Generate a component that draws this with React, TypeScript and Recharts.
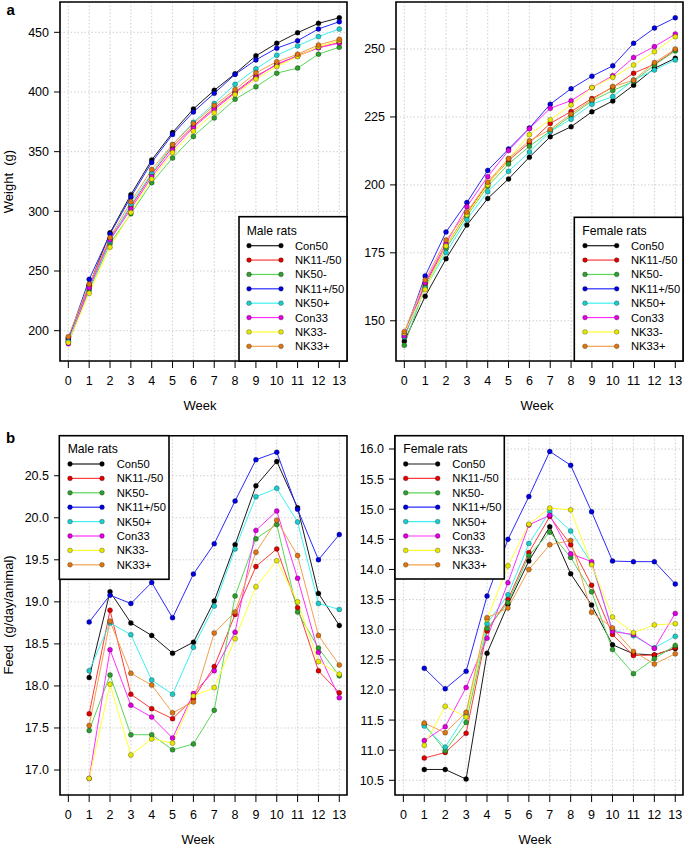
import React from 'react';
import { LineChart, Line, XAxis, YAxis, CartesianGrid, ReferenceArea } from 'recharts';

const FONT = '"Liberation Sans", Arial, Helvetica, sans-serif';

const seriesNames = ['Con50', 'NK11-/50', 'NK50-', 'NK11+/50', 'NK50+', 'Con33', 'NK33-', 'NK33+'];
const lineColors = ['#1a1a1a', '#ff3c3c', '#5ad65a', '#2a2aff', '#3ef0f0', '#ff30ff', '#ffff30', '#f2a04e'];
const dotColors = ['#000000', '#e00000', '#2e9e2e', '#0000e0', '#1ccccc', '#e000e0', '#e6e600', '#dd7612'];

const weightWeeks = [0, 1, 2, 3, 4, 5, 6, 7, 8, 9, 10, 11, 12, 13];
const feedWeeks = [1, 2, 3, 4, 5, 6, 7, 8, 9, 10, 11, 12, 13];
const weekTicks = [0, 1, 2, 3, 4, 5, 6, 7, 8, 9, 10, 11, 12, 13];

// series order follows seriesNames
const maleWeight = [
  [194, 238, 282, 314, 343, 366, 385.8, 401.4, 415.3, 430.3, 440.8, 449.7, 457.5, 462.2],
  [193, 238, 277, 304, 331, 354, 371.4, 386.7, 400, 413.3, 422.8, 430.6, 437.2, 441.4],
  [191, 234, 273, 298, 324, 344.7, 362.8, 378.3, 393.9, 404.4, 415.8, 420, 431.7, 437.5],
  [193, 243, 281, 312, 341, 364.4, 383.3, 398.9, 414.7, 426.9, 436.7, 443, 452.8, 458.9],
  [191, 235.8, 275, 306, 332, 355.8, 374.7, 390.3, 406.4, 419.4, 430.8, 438.6, 446.4, 452.8],
  [189, 236, 276, 302, 329, 351.4, 370.3, 385.3, 399.2, 412.2, 423.6, 430, 437, 441],
  [190, 231.4, 270, 299, 327, 349.2, 367.2, 382.5, 397.8, 410.8, 421.4, 429.7, 438, 443],
  [195, 239, 278, 308, 335, 356.1, 373.6, 388.6, 402, 416.1, 425.3, 431.7, 439.4, 444.2],
];

const femaleWeight = [
  [142.5, 159, 172.8, 185.2, 195, 202.2, 210.2, 217.7, 221.4, 226.9, 230.9, 236.7, 242.9, 246.6],
  [144, 163.5, 177.5, 189.5, 200.5, 209, 215.5, 222.6, 227, 231.8, 235.9, 241.1, 244.4, 249.6],
  [141, 162.5, 176.6, 188.5, 199.5, 207.7, 214.2, 219.8, 225.4, 230.9, 234.7, 238.1, 244.1, 249.3],
  [145, 166.5, 182.7, 193.5, 205.3, 213.2, 220.9, 229.7, 235.4, 240, 243.8, 252.1, 257.7, 261.5],
  [144, 162, 175.1, 187.3, 197.5, 205, 212.1, 219.6, 224.2, 229.7, 232.5, 238.6, 242.3, 246],
  [144.5, 164, 178.5, 192, 203, 212.7, 220.7, 228.2, 231, 235.8, 240.2, 246.9, 250.9, 255.5],
  [145.5, 161.5, 177.5, 189, 200, 209.6, 218.5, 224, 229.4, 235.8, 239.6, 244.1, 249, 254.5],
  [146, 165, 179.7, 190, 201, 209.7, 216.2, 220.4, 226.1, 231.3, 236.2, 238.5, 245, 250],
];

const maleFeed = [
  [18.1, 19.12, 18.75, 18.6, 18.39, 18.52, 19.01, 19.68, 20.38, 20.67, 20.12, 19.1, 18.72],
  [17.67, 18.9, 17.9, 17.73, 17.61, 17.85, 18.23, 18.85, 19.42, 19.63, 18.93, 18.18, 17.92],
  [17.47, 18.13, 17.42, 17.42, 17.24, 17.31, 17.71, 19.07, 19.75, 19.92, 18.88, 18.45, 18.12],
  [18.76, 19.08, 18.98, 19.23, 18.81, 19.33, 19.69, 20.2, 20.69, 20.78, 20.1, 19.5, 19.8],
  [18.18, 18.75, 18.61, 18.07, 17.9, 18.46, 18.95, 19.63, 20.25, 20.35, 19.95, 18.98, 18.91],
  [16.9, 18.43, 17.77, 17.63, 17.38, 17.91, 18.18, 18.64, 19.85, 20.08, 19.28, 18.4, 17.86],
  [16.9, 18.02, 17.18, 17.37, 17.32, 17.88, 17.98, 18.56, 19.18, 19.49, 19.0, 18.29, 18.14],
  [17.53, 18.77, 18.15, 18.01, 17.68, 17.81, 18.63, 18.88, 19.59, 19.97, 19.55, 18.6, 18.25],
];

const femaleFeed = [
  [10.68, 10.68, 10.52, 12.61, 13.42, 14.14, 14.71, 13.93, 13.41, 12.75, 12.6, 12.58, 12.69],
  [10.87, 10.96, 11.28, 12.98, 13.5, 14.28, 14.88, 14.41, 13.74, 12.92, 12.57, 12.58, 12.7],
  [11.43, 10.99, 11.46, 13.02, 13.45, 14.23, 14.62, 14.2, 13.63, 12.67, 12.27, 12.52, 12.74],
  [12.36, 12.02, 12.31, 13.56, 14.5, 15.21, 15.96, 15.73, 14.96, 14.14, 14.13, 14.13, 13.76],
  [11.4, 11.05, 11.59, 13.1, 13.58, 14.43, 14.96, 14.64, 14.1, 13.0, 12.9, 12.7, 12.89],
  [11.16, 11.39, 12.04, 12.86, 13.78, 14.74, 14.9, 14.26, 14.13, 12.97, 12.92, 12.69, 13.27],
  [11.08, 11.73, 11.55, 13.17, 14.06, 14.75, 15.02, 14.99, 14.08, 13.21, 12.95, 13.08, 13.1],
  [11.45, 11.29, 11.63, 13.2, 13.36, 14.0, 14.41, 14.48, 13.29, 13.03, 12.64, 12.43, 12.6],
];

const maleWeightTicks = [200, 250, 300, 350, 400, 450];
const femaleWeightTicks = [150, 175, 200, 225, 250];
const maleFeedTicks = [17.0, 17.5, 18.0, 18.5, 19.0, 19.5, 20.0, 20.5];
const femaleFeedTicks = [10.5, 11.0, 11.5, 12.0, 12.5, 13.0, 13.5, 14.0, 14.5, 15.0, 15.5, 16.0];

const X_DOMAIN: [number, number] = [-0.4, 13.37];

function buildRows(weeks: number[], series: number[][]) {
  return weeks.map((w, i) => {
    const row: Record<string, number> = { week: w };
    series.forEach((s, k) => {
      row['s' + k] = s[i];
    });
    return row;
  });
}

type PanelProps = {
  left: number;
  top: number;
  width: number;
  height: number;
  marginTop: number;
  xAxisHeight: number;
  rows: Record<string, number>[];
  yDomain: [number, number];
  yTicks: number[];
  fmt?: (v: number) => string;
};

function Panel(p: PanelProps) {
  const tickStyle = { fontSize: 12.5, fill: '#000', fontFamily: FONT };
  return (
    <div style={{ position: 'absolute', left: p.left, top: p.top }}>
      <LineChart
        width={p.width}
        height={p.height}
        data={p.rows}
        margin={{ top: p.marginTop, right: 3, bottom: 0, left: 0 }}
      >
        <CartesianGrid stroke="#c4c4c4" strokeDasharray="1.5 2" strokeWidth={0.8} />
        <XAxis
          type="number"
          dataKey="week"
          domain={X_DOMAIN}
          allowDataOverflow
          ticks={weekTicks}
          interval={0}
          tickSize={7}
          tickMargin={8}
          axisLine={false}
          tickLine={{ stroke: '#000', strokeWidth: 1 }}
          tick={tickStyle}
          height={p.xAxisHeight}
        />
        <YAxis
          type="number"
          domain={p.yDomain}
          allowDataOverflow
          ticks={p.yTicks}
          interval={0}
          tickFormatter={p.fmt}
          width={60}
          tickSize={6}
          tickMargin={5}
          axisLine={false}
          tickLine={{ stroke: '#000', strokeWidth: 1 }}
          tick={tickStyle}
        />
        {seriesNames.map((name, k) => (
          <Line
            key={name}
            name={name}
            dataKey={'s' + k}
            type="linear"
            stroke={lineColors[k]}
            strokeWidth={1}
            dot={{ r: 2.5, fill: dotColors[k], stroke: 'rgba(0,0,0,0.45)', strokeWidth: 0.6 }}
            isAnimationActive={false}
          />
        ))}
        <ReferenceArea
          x1={X_DOMAIN[0]}
          x2={X_DOMAIN[1]}
          y1={p.yDomain[0]}
          y2={p.yDomain[1]}
          fill="none"
          fillOpacity={0}
          stroke="#000"
          strokeWidth={1.6}
          ifOverflow="visible"
        />
      </LineChart>
    </div>
  );
}

type LegendProps = {
  x: number;
  y: number;
  w: number;
  h: number;
  title: string;
  titleX: number;
  titleY: number;
  lineX1: number;
  lineX2: number;
  textX: number;
  itemY0: number;
  step: number;
};

function LegendBox(l: LegendProps) {
  return (
    <g>
      <rect x={l.x} y={l.y} width={l.w} height={l.h} fill="#fff" stroke="#000" strokeWidth={1.6} />
      <text x={l.titleX} y={l.titleY} dominantBaseline="central" fontSize={12.2} fontFamily={FONT} fill="#000">
        {l.title}
      </text>
      {seriesNames.map((name, k) => {
        const cy = l.itemY0 + k * l.step;
        return (
          <g key={name}>
            <line x1={l.lineX1} x2={l.lineX2} y1={cy} y2={cy} stroke={lineColors[k]} strokeWidth={1.2} />
            <circle cx={l.lineX1} cy={cy} r={2.4} fill={dotColors[k]} stroke="rgba(0,0,0,0.45)" strokeWidth={0.6} />
            <circle cx={l.lineX2} cy={cy} r={2.4} fill={dotColors[k]} stroke="rgba(0,0,0,0.45)" strokeWidth={0.6} />
            <text x={l.textX} y={cy} dominantBaseline="central" fontSize={11.2} fontFamily={FONT} fill="#000">
              {name}
            </text>
          </g>
        );
      })}
    </g>
  );
}

const fmt1 = (v: number) => v.toFixed(1);

export default function App() {
  const maleWeightRows = buildRows(weightWeeks, maleWeight);
  const femaleWeightRows = buildRows(weightWeeks, femaleWeight);
  const maleFeedRows = buildRows(feedWeeks, maleFeed);
  const femaleFeedRows = buildRows(feedWeeks, femaleFeed);

  return (
    <div style={{ position: 'absolute', left: 0, top: 0, width: 685, height: 845, background: '#fff', fontFamily: FONT }}>
      <Panel left={0} top={0} width={350} height={420} marginTop={2} xAxisHeight={59}
        rows={maleWeightRows} yDomain={[174.6, 475.4]} yTicks={maleWeightTicks} />
      <Panel left={336} top={0} width={350} height={420} marginTop={2} xAxisHeight={59}
        rows={femaleWeightRows} yDomain={[135.2, 267.3]} yTicks={femaleWeightTicks} />
      <Panel left={0} top={430} width={350} height={415} marginTop={5.7} xAxisHeight={50}
        rows={maleFeedRows} yDomain={[16.703, 20.976]} yTicks={maleFeedTicks} fmt={fmt1} />
      <Panel left={335} top={430} width={351} height={415} marginTop={5.7} xAxisHeight={50}
        rows={femaleFeedRows} yDomain={[10.256, 16.221]} yTicks={femaleFeedTicks} fmt={fmt1} />

      <svg width={685} height={845} style={{ position: 'absolute', left: 0, top: 0, pointerEvents: 'none' }}>
        <text x={6.5} y={15} fontSize={15} fontWeight="bold" fontFamily={FONT} fill="#000">a</text>
        <text x={6} y={443.3} fontSize={15} fontWeight="bold" fontFamily={FONT} fill="#000">b</text>

        <text x={200} y={405} textAnchor="middle" dominantBaseline="central" fontSize={13} fontFamily={FONT} fill="#000">Week</text>
        <text x={537} y={405} textAnchor="middle" dominantBaseline="central" fontSize={13} fontFamily={FONT} fill="#000">Week</text>
        <text x={198} y={839} textAnchor="middle" dominantBaseline="central" fontSize={13} fontFamily={FONT} fill="#000">Week</text>
        <text x={535} y={839} textAnchor="middle" dominantBaseline="central" fontSize={13} fontFamily={FONT} fill="#000">Week</text>

        <text transform="translate(12.5,181.5) rotate(-90)" textAnchor="middle" fontSize={13} fontFamily={FONT} fill="#000">
          {'Weight \u00A0(g)'}
        </text>
        <text transform="translate(12.5,615) rotate(-90)" textAnchor="middle" fontSize={13} fontFamily={FONT} fill="#000">
          {'Feed \u00A0(g/day/animal)'}
        </text>

        <LegendBox x={239} y={216.7} w={108} h={144.3} title="Male rats" titleX={246.7} titleY={231}
          lineX1={249} lineX2={281} textX={295} itemY0={245.7} step={14.37} />
        <LegendBox x={574.3} y={217.3} w={108.7} h={143.7} title="Female rats" titleX={582.3} titleY={231}
          lineX1={585} lineX2={616.7} textX={631} itemY0={245.7} step={14.37} />
        <LegendBox x={59.3} y={435.7} w={109.7} h={143.6} title="Male rats" titleX={67.7} titleY={449}
          lineX1={70} lineX2={102} textX={116.7} itemY0={464} step={14.4} />
        <LegendBox x={395} y={435.7} w={109.3} h={143.3} title="Female rats" titleX={403.3} titleY={449}
          lineX1={405.7} lineX2={437.7} textX={452.3} itemY0={464} step={14.4} />
      </svg>
    </div>
  );
}
